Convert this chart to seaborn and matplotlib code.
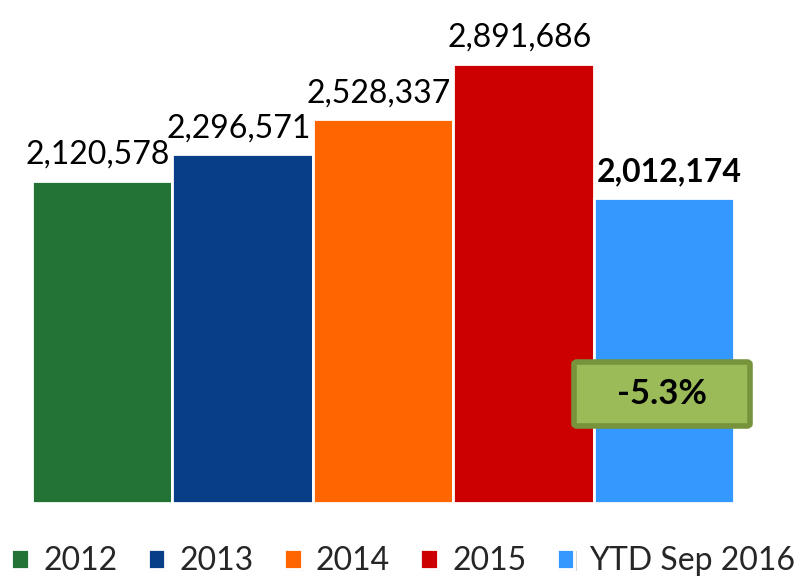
import matplotlib
matplotlib.use("Agg")
import matplotlib.pyplot as plt
import seaborn as sns
import pandas as pd
from matplotlib.patches import FancyBboxPatch
import matplotlib.patheffects as pe

categories = ["2012", "2013", "2014", "2015", "YTD Sep 2016"]
values = [2120578, 2296571, 2528337, 2891686, 2012174]
labels = ["2,120,578", "2,296,571", "2,528,337", "2,891,686", "2,012,174"]
colors = ["#237337", "#083E87", "#FF6600", "#CC0000", "#3399FF"]
change_label = "-5.3%"

sns.set_theme(style="white")
plt.rcParams['font.family'] = ['Lato', 'DejaVu Sans']

df = pd.DataFrame({"cat": categories, "val": values})

fig = plt.figure(figsize=(8.03, 5.82), dpi=100)
ax = fig.add_axes([32/803, 1-503/582, (734-32)/803, 503/582])

sns.barplot(data=df, x="cat", y="val", hue="cat", palette=colors, width=1.0,
            edgecolor="white", linewidth=2, ax=ax, legend=True, saturation=1)
for p in ax.patches:
    p.set_path_effects([pe.SimplePatchShadow(offset=(1.5, -1.5), shadow_rgbFace="#bbbbbb", alpha=0.6), pe.Normal()])

handles, hlabels = ax.get_legend_handles_labels()
if ax.get_legend() is not None:
    ax.get_legend().remove()

ax.set_xlim(-0.5, 4.5)
ax.set_ylim(0, 2891686 * 503 / 439)
ax.axis("off")

for i, (v, lab) in enumerate(zip(values, labels)):
    ax.annotate(lab, (i, v), xytext=(-3 if i < 4 else 4, 8), textcoords="offset points",
                ha="center", va="bottom", fontsize=23,
                fontweight="bold" if i == 4 else "normal", color="black")

box = FancyBboxPatch((574/803, 1-426/582), 176/803, 64/582,
                     boxstyle="round,pad=0,rounding_size=0.004",
                     transform=fig.transFigure, facecolor="#9BBB59",
                     edgecolor="#77933C", linewidth=4, zorder=5)
fig.patches.append(box)
fig.text(662/803, 1-394/582, change_label, ha="center", va="center",
         fontsize=25, fontweight="bold", color="black", zorder=6)

fig.legend(handles, hlabels, loc="center", bbox_to_anchor=(403/803, 1-561/582),
           ncol=5, frameon=False, fontsize=23, handlelength=0.55, handleheight=0.6,
           handletextpad=0.45, columnspacing=0.95, borderaxespad=0, borderpad=0)

fig.savefig("out.png", dpi=100)
